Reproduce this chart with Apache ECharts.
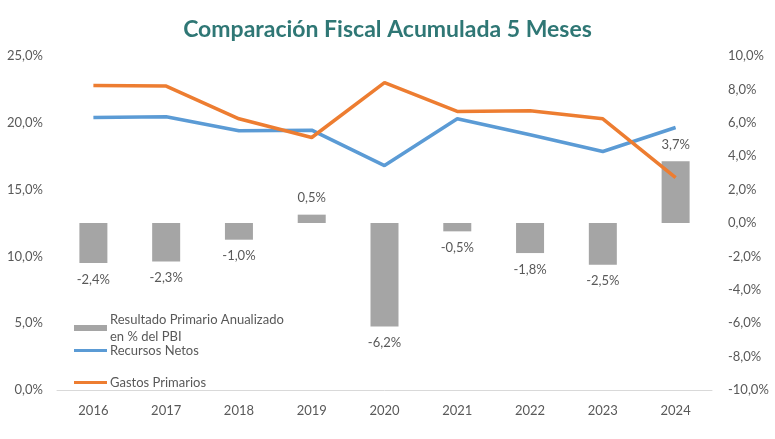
<!DOCTYPE html>
<html><head><meta charset="utf-8">
<script src="https://cdn.jsdelivr.net/npm/echarts@6/dist/echarts.min.js"></script>
<style>html,body{margin:0;padding:0;background:#fff}#c{width:775px;height:439px}</style>
</head><body><div id="c"></div>
<script>
const years = ['2016','2017','2018','2019','2020','2021','2022','2023','2024'];
const resultado = [-2.4, -2.3, -1.0, 0.5, -6.2, -0.5, -1.8, -2.5, 3.7];
const recursos = [20.4, 20.45, 19.4, 19.45, 16.8, 20.3, 19.1, 17.85, 19.65];
const gastos = [22.8, 22.75, 20.3, 18.9, 23.0, 20.85, 20.9, 20.3, 15.9];
const fmt = v => v.toFixed(1).replace('.', ',') + '%';
const F = 'Lato, "Noto Sans", sans-serif';
const chart = echarts.init(document.getElementById('c'));
chart.setOption({
  animation: false,
  title: { text: 'Comparación Fiscal Acumulada 5 Meses', left: 'center', top: 13,
    textStyle: { color: '#2F7775', fontSize: 23, fontWeight: 'bold', fontFamily: F } },
  grid: { left: 57, right: 63, top: 56, bottom: 49 },
  legend: [
    { data: [{ name: 'Resultado Primario Anualizado\nen % del PBI', icon: 'rect' }], left: 69, top: 306, itemWidth: 33, itemHeight: 6, itemGap: 4,
      textStyle: { color: '#595959', fontSize: 13, fontFamily: F, lineHeight: 17, padding: [0, 0, 0, -2] } },
    { data: [{ name: 'Recursos Netos', icon: 'rect' }], left: 69, top: 339, itemWidth: 33, itemHeight: 3,
      textStyle: { color: '#595959', fontSize: 13, fontFamily: F, padding: [0, 0, 0, -2] } },
    { data: [{ name: 'Gastos Primarios', icon: 'rect' }], left: 69, top: 371, itemWidth: 33, itemHeight: 3,
      textStyle: { color: '#595959', fontSize: 13, fontFamily: F, padding: [0, 0, 0, -2] } }
  ],
  xAxis: { type: 'category', data: years,
    axisLine: { lineStyle: { color: '#D9D9D9', width: 1 } }, axisTick: { show: false },
    axisLabel: { color: '#595959', fontSize: 13, fontFamily: F, margin: 14 } },
  yAxis: [
    { type: 'value', min: 0, max: 25, interval: 5, splitLine: { show: false },
      axisLabel: { color: '#595959', fontSize: 13, fontFamily: F, formatter: fmt, margin: 14 } },
    { type: 'value', min: -10, max: 10, interval: 2, splitLine: { show: false },
      axisLabel: { color: '#595959', fontSize: 13, fontFamily: F, formatter: fmt, margin: 16 } }
  ],
  series: [
    { name: 'Resultado Primario Anualizado\nen % del PBI', type: 'bar', yAxisIndex: 1,
      data: resultado.map(v => ({ value: v, label: { position: v < 0 ? 'bottom' : 'top' } })),
      barWidth: 28, itemStyle: { color: '#A5A5A5' },
      label: { show: true, color: '#595959', fontSize: 13, fontFamily: F, distance: 10,
        formatter: p => fmt(p.value) } },
    { name: 'Recursos Netos', type: 'line', data: recursos, symbol: 'none',
      lineStyle: { color: '#5B9BD5', width: 3.5 }, itemStyle: { color: '#5B9BD5' } },
    { name: 'Gastos Primarios', type: 'line', data: gastos, symbol: 'none',
      lineStyle: { color: '#ED7D31', width: 3.5 }, itemStyle: { color: '#ED7D31' } }
  ]
});
</script></body></html>
